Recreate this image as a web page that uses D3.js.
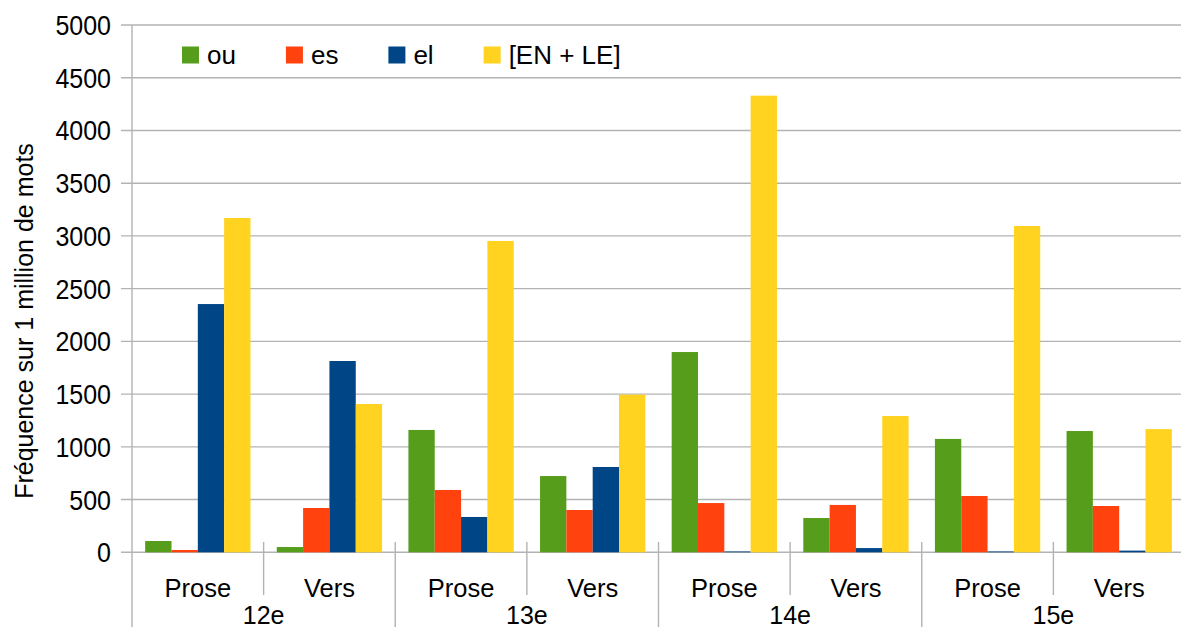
<!DOCTYPE html>
<html>
<head>
<meta charset="utf-8">
<script src="https://cdn.jsdelivr.net/npm/d3@7"></script>
<style>
  html, body { margin: 0; padding: 0; background: #fff; }
  svg { display: block; font-family: "Liberation Sans", Arial, sans-serif; }
</style>
</head>
<body>
<svg id="chart" width="1181" height="630"></svg>
<script>
// ---- data ----
const centuries = ["12e", "13e", "14e", "15e"];
const genres = ["Prose", "Vers"];
const seriesNames = ["ou", "es", "el", "[EN + LE]"];
const seriesColors = ["#579d1c", "#ff420e", "#004586", "#ffd320"];
// values per category, order: 12e Prose, 12e Vers, 13e Prose, 13e Vers, 14e Prose, 14e Vers, 15e Prose, 15e Vers
const ou       = [107,   50, 1160,  723, 1899,  325, 1075, 1150];
const es       = [ 22,  420,  591,  401,  467,  449,  534,  439];
const el       = [2354, 1814, 335,  809,    8,   40,    8,   16];
const enle     = [3170, 1406, 2952, 1495, 4330, 1292, 3094, 1168];
const yTicks   = [0, 500, 1000, 1500, 2000, 2500, 3000, 3500, 4000, 4500, 5000];
const yTitle = "Fréquence sur 1 million de mots";

const seriesValues = [ou, es, el, enle];
const categories = [];
centuries.forEach(c => genres.forEach(g => categories.push({century: c, genre: g, key: c + "-" + g})));

// ---- layout ----
const svg = d3.select("#chart");
const mLeft = 132, mRight = 1185, mTop = 25, mBottom = 552.3;

const x = d3.scaleBand().domain(categories.map(d => d.key)).range([mLeft, mRight]).padding(0);
const xs = d3.scaleBand().domain(seriesNames).range([x.bandwidth() * 0.1, x.bandwidth() * 0.9]).padding(0);
const y = d3.scaleLinear().domain([0, 5000]).range([mBottom, mTop]);

const gridColor = "#b3b3b3";

// gridlines
svg.append("g").selectAll("line").data(yTicks).join("line")
  .attr("x1", mLeft - 11).attr("x2", 1181)
  .attr("y1", d => y(d)).attr("y2", d => y(d))
  .attr("stroke", gridColor).attr("stroke-width", 1.4);

// y tick labels
svg.append("g").selectAll("text").data(yTicks).join("text")
  .attr("transform", d => `translate(111,${y(d) + 10}) scale(1,1.07)`)
  .attr("text-anchor", "end")
  .attr("font-size", 25)
  .attr("fill", "#000")
  .text(d => d);

// bars
const barG = svg.append("g");
seriesNames.forEach((s, si) => {
  barG.append("g").selectAll("rect").data(categories).join("rect")
    .attr("x", (d) => x(d.key) + xs(s))
    .attr("width", xs.bandwidth())
    .attr("y", (d, i) => y(seriesValues[si][i]))
    .attr("height", (d, i) => y(0) - y(seriesValues[si][i]))
    .attr("fill", seriesColors[si]);
});

// y axis line
svg.append("line")
  .attr("x1", mLeft).attr("x2", mLeft)
  .attr("y1", mTop).attr("y2", 627)
  .attr("stroke", gridColor).attr("stroke-width", 1.4);

// category boundary ticks
const boundaries = categories.slice(1).map((d) => ({pos: x(d.key), major: d.genre === "Prose"}));
svg.append("g").selectAll("line").data(boundaries).join("line")
  .attr("x1", d => d.pos).attr("x2", d => d.pos)
  .attr("y1", 542).attr("y2", d => d.major ? 627 : 595)
  .attr("stroke", gridColor).attr("stroke-width", 1.4);

// genre labels
svg.append("g").selectAll("text").data(categories).join("text")
  .attr("x", d => x(d.key) + x.bandwidth() / 2)
  .attr("y", 597)
  .attr("text-anchor", "middle")
  .attr("font-size", 25.5)
  .text(d => d.genre);

// century labels
svg.append("g").selectAll("text").data(centuries).join("text")
  .attr("x", c => x(c + "-Vers"))
  .attr("y", 624)
  .attr("text-anchor", "middle")
  .attr("font-size", 25)
  .text(c => c);

// y title
svg.append("text")
  .attr("transform", "translate(33,321) rotate(-90)")
  .attr("text-anchor", "middle")
  .attr("font-size", 25)
  .text(yTitle);

// legend
const leg = svg.append("g");
let lx = 182;
seriesNames.forEach((s, i) => {
  leg.append("rect").attr("x", lx).attr("y", 46.5).attr("width", 17).attr("height", 17)
    .attr("fill", seriesColors[i]);
  const t = leg.append("text").attr("x", lx + 25).attr("y", 64)
    .attr("font-size", 26).text(s);
  lx += 25 + t.node().getComputedTextLength() + 50;
});
</script>
</body>
</html>
